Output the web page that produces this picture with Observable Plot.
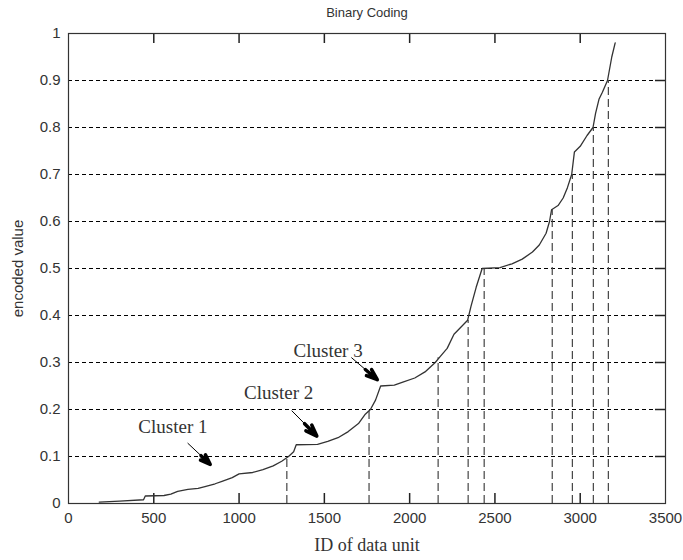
<!DOCTYPE html>
<html>
<head>
<meta charset="utf-8">
<script src="https://cdn.jsdelivr.net/npm/d3@7"></script>
<script src="https://cdn.jsdelivr.net/npm/@observablehq/plot@0.6"></script>
<style>
  html, body { margin: 0; padding: 0; background: #fff; }
  svg { display: block; }
</style>
</head>
<body>
<div id="chart"></div>
<script>
// ---- data ----
const ids = [180, 300, 440, 450, 560, 600, 640, 700, 760, 800, 860, 900, 960, 1000, 1080, 1140, 1200, 1250, 1290, 1320, 1335, 1460, 1520, 1580, 1640, 1700, 1740, 1770, 1800, 1830, 1910, 1960, 2030, 2090, 2150, 2180, 2220, 2260, 2300, 2340, 2360, 2390, 2425, 2530, 2600, 2660, 2720, 2760, 2800, 2820, 2832, 2870, 2900, 2925, 2950, 2966, 3000, 3040, 3075, 3090, 3110, 3130, 3160, 3185, 3205];
const values = [0.003, 0.005, 0.008, 0.016, 0.017, 0.02, 0.026, 0.03, 0.032, 0.036, 0.042, 0.047, 0.055, 0.063, 0.066, 0.072, 0.08, 0.09, 0.1, 0.11, 0.125, 0.126, 0.132, 0.14, 0.153, 0.17, 0.19, 0.2, 0.22, 0.25, 0.252, 0.258, 0.267, 0.28, 0.3, 0.313, 0.33, 0.36, 0.375, 0.39, 0.42, 0.46, 0.5, 0.502, 0.51, 0.52, 0.535, 0.55, 0.575, 0.6, 0.625, 0.634, 0.65, 0.672, 0.7, 0.748, 0.76, 0.783, 0.8, 0.83, 0.86, 0.875, 0.9, 0.95, 0.98];

const dropIds = [1280, 1762, 2167, 2343, 2437, 2836, 2954, 3077, 3165];
const dropValues = [0.1, 0.2, 0.31, 0.39, 0.5, 0.625, 0.7, 0.8, 0.9];

const xTicks = [0, 500, 1000, 1500, 2000, 2500, 3000, 3500];
const xTickLabels = ["0", "500", "1000", "1500", "2000", "2500", "3000", "3500"];
const yTicks = [0, 0.1, 0.2, 0.3, 0.4, 0.5, 0.6, 0.7, 0.8, 0.9, 1];
const yTickLabels = ["0", "0.1", "0.2", "0.3", "0.4", "0.5", "0.6", "0.7", "0.8", "0.9", "1"];

const clusterNames = ["Cluster 1", "Cluster 2", "Cluster 3"];
const clusterLabelX = [612, 1232, 1522];
const clusterLabelY = [0.162, 0.235, 0.325];
const arrowFromX = [700, 1310, 1660];
const arrowFromY = [0.128, 0.197, 0.31];
const arrowToX = [835, 1460, 1815];
const arrowToY = [0.082, 0.142, 0.262];

const title = "Binary Coding";
const xLabel = "ID of data unit";
const yLabel = "encoded value";

// ---- tables ----
const curve = ids.map((id, i) => ({id, v: values[i]}));
const drops = dropIds.map((id, i) => ({id, v: dropValues[i]}));
const clusters = clusterNames.map((name, i) => ({
  name, lx: clusterLabelX[i], ly: clusterLabelY[i],
  x1: arrowFromX[i], y1: arrowFromY[i], x2: arrowToX[i], y2: arrowToY[i]
}));
const innerX = xTicks.slice(1, -1);
const innerY = yTicks.slice(1, -1);

const ink = "#333";
const sans = "Liberation Sans, Arial, sans-serif";
const serif = "Liberation Serif, Times New Roman, serif";

const chart = Plot.plot({
  width: 683,
  height: 560,
  marginLeft: 68,
  marginRight: 18,
  marginTop: 33,
  marginBottom: 57,
  style: {fontFamily: sans, background: "#fff", color: ink},
  x: {domain: [0, 3500], ticks: xTicks},
  y: {domain: [0, 1], ticks: yTicks},
  marks: [
    // horizontal dotted gridlines
    Plot.ruleY(innerY, {stroke: "#000", strokeWidth: 1, strokeDasharray: "4,3"}),
    // vertical dashed drop lines
    Plot.ruleX(drops, {x: "id", y1: 0, y2: "v", stroke: "#444", strokeWidth: 1.2, strokeDasharray: "8,4"}),
    // inner ticks (MATLAB style)
    Plot.tickX(innerX, {x: d => d, insetTop: 460, stroke: "#222", strokeWidth: 1.5}),
    Plot.tickX(innerX, {x: d => d, insetBottom: 460, stroke: "#222", strokeWidth: 1.5}),
    Plot.tickY(innerY, {y: d => d, insetLeft: 587, stroke: "#222", strokeWidth: 1.5}),
    // curve
    Plot.line(curve, {x: "id", y: "v", stroke: ink, strokeWidth: 1.3}),
    // annotations
    Plot.arrow(clusters, {x1: "x1", y1: "y1", x2: "x2", y2: "y2", stroke: "#000", strokeWidth: 1, headLength: 0}),
    Plot.arrow(clusters, {x1: "x1", y1: "y1", x2: "x2", y2: "y2", stroke: "#000", strokeWidth: 3.5, headAngle: 40, headLength: 14, insetStart: 18, insetEnd: 1}),
    Plot.text(clusters, {x: "lx", y: "ly", text: "name", fontFamily: serif, fontSize: 19, fill: ink}),
    // frame
    Plot.frame({stroke: ink, strokeWidth: 1.2}),
    // axes (labels only)
    Plot.axisX({ticks: xTicks, tickSize: 0, tickPadding: 9, fontSize: 15, fill: ink, label: null,
      tickFormat: d => xTickLabels[xTicks.indexOf(d)]}),
    Plot.axisY({ticks: yTicks, tickSize: 0, tickPadding: 8, fontSize: 15, fill: ink, label: null,
      tickFormat: d => yTickLabels[yTicks.indexOf(d)]}),
    // title and axis labels
    Plot.text([title], {frameAnchor: "top", dy: -21, lineAnchor: "middle", text: d => d, fontSize: 13, fill: ink}),
    Plot.text([xLabel], {frameAnchor: "bottom", dy: 42, lineAnchor: "middle", text: d => d, fontFamily: serif, fontSize: 18, fill: ink}),
    Plot.text([yLabel], {frameAnchor: "left", dx: -50, rotate: -90, textAnchor: "middle", text: d => d, fontSize: 15, fill: ink})
  ]
});
document.getElementById("chart").appendChild(chart);
</script>
</body>
</html>
